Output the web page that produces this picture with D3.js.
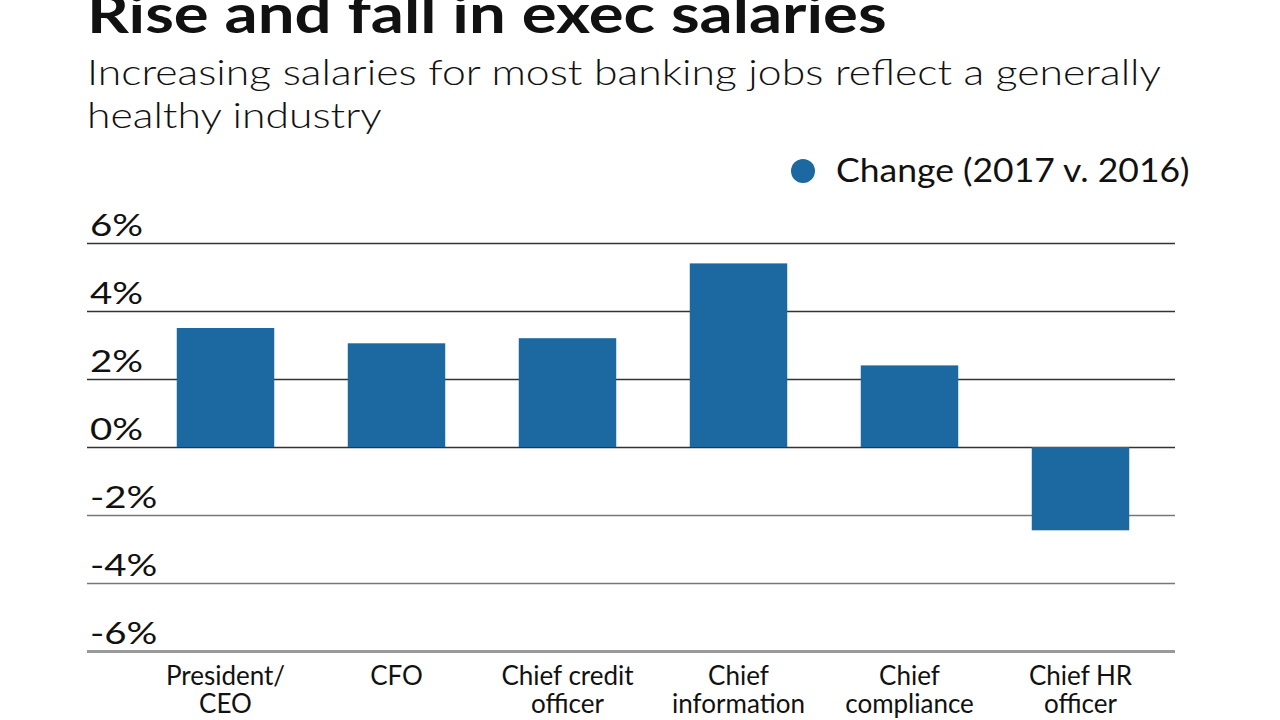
<!DOCTYPE html>
<html>
<head>
<meta charset="utf-8">
<script src="https://cdn.jsdelivr.net/npm/d3@7"></script>
<style>
  body { margin: 0; background: #fff; }
  svg text { fill: #111; }
  .grid .domain { display: none; }
</style>
</head>
<body>
<div id="chart"></div>
<script>
// values
const categories = ['President/CEO', 'CFO', 'Chief credit officer', 'Chief information officer', 'Chief compliance officer', 'Chief HR officer']
const labelLines = [['President/', 'CEO'], ['CFO'], ['Chief credit', 'officer'], ['Chief', 'information', 'officer'], ['Chief', 'compliance', 'officer'], ['Chief HR', 'officer']]
const changes = [3.5, 3.05, 3.2, 5.4, 2.4, -2.45]
const yTicks = [-6, -4, -2, 0, 2, 4, 6]
const seriesName = 'Change (2017 v. 2016)'

const W = 1280
const H = 720
const barColor = '#1c68a0'
const FONT = 'Lato, sans-serif'

const svg = d3.select('#chart').append('svg')
  .attr('width', W)
  .attr('height', H)

// the reference face is wider than Lato, so stretch the text a bit
const wideText = (x, y, sx) => svg.append('g')
  .attr('transform', 'translate(' + x + ',' + y + ') scale(' + sx + ',1)')
  .append('text')
  .style('font-family', FONT)

// title + subtitle
wideText(87, 33, 1.21)
  .style('font-weight', 700)
  .style('font-size', '54px')
  .text('Rise and fall in exec salaries')

const sub = wideText(87, 0, 1.22)
  .style('font-weight', 300)
  .style('font-size', '35px')
sub.append('tspan').attr('x', 0).attr('y', 85).text('Increasing salaries for most banking jobs reflect a generally')
sub.append('tspan').attr('x', 0).attr('y', 128).text('healthy industry')

// legend
svg.append('circle')
  .attr('cx', 803).attr('cy', 171).attr('r', 12)
  .attr('fill', barColor)
wideText(836, 182, 1.11)
  .style('font-size', '32px')
  .text(seriesName)

const left = 87
const right = 1175

const x = d3.scaleBand()
  .domain(categories)
  .range([140, 1166])
  .paddingInner(0.43)
  .paddingOuter(0.215)

const y = d3.scaleLinear()
  .domain([-6, 6])
  .range([651, 243])

// gridlines + tick labels
const grid = svg.append('g')
  .attr('class', 'grid')
  .attr('transform', 'translate(' + right + ',0)')
  .call(d3.axisLeft(y).tickValues(yTicks).tickSize(right - left).tickFormat(d => d + '%'))

grid.selectAll('.tick line')
  .style('stroke', d => d < -1 ? '#777' : '#333')
  .style('stroke-width', 1.5)

grid.selectAll('.tick').filter(d => d === -6).select('line')
  .style('stroke', '#999')
  .style('stroke-width', 3)

const tickScale = 1.24
grid.selectAll('.tick text')
  .attr('x', (-(right - left) + 3) / tickScale)
  .attr('dy', -8)
  .attr('text-anchor', 'start')
  .attr('transform', 'scale(' + tickScale + ',1)')
  .style('font-family', FONT)
  .style('font-size', '31px')
  .style('fill', '#111')

// bars
svg.selectAll('.bar')
  .data(changes)
  .enter().append('rect')
  .attr('class', 'bar')
  .attr('x', (d, i) => x(categories[i]))
  .attr('width', x.bandwidth())
  .attr('y', d => y(Math.max(0, d)))
  .attr('height', d => Math.abs(y(d) - y(0)))
  .attr('fill', barColor)

// category labels
const labels = svg.selectAll('.cat')
  .data(labelLines)
  .enter().append('text')
  .attr('class', 'cat')
  .attr('text-anchor', 'middle')
  .attr('transform', (d, i) => 'translate(' + (x(categories[i]) + x.bandwidth() / 2) + ',0)')
  .style('font-family', FONT)
  .style('font-size', '26px')

labels.selectAll('tspan')
  .data(d => d)
  .enter().append('tspan')
  .attr('x', 0)
  .attr('y', (d, j) => 685 + j * 28)
  .text(d => d)
</script>
</body>
</html>
